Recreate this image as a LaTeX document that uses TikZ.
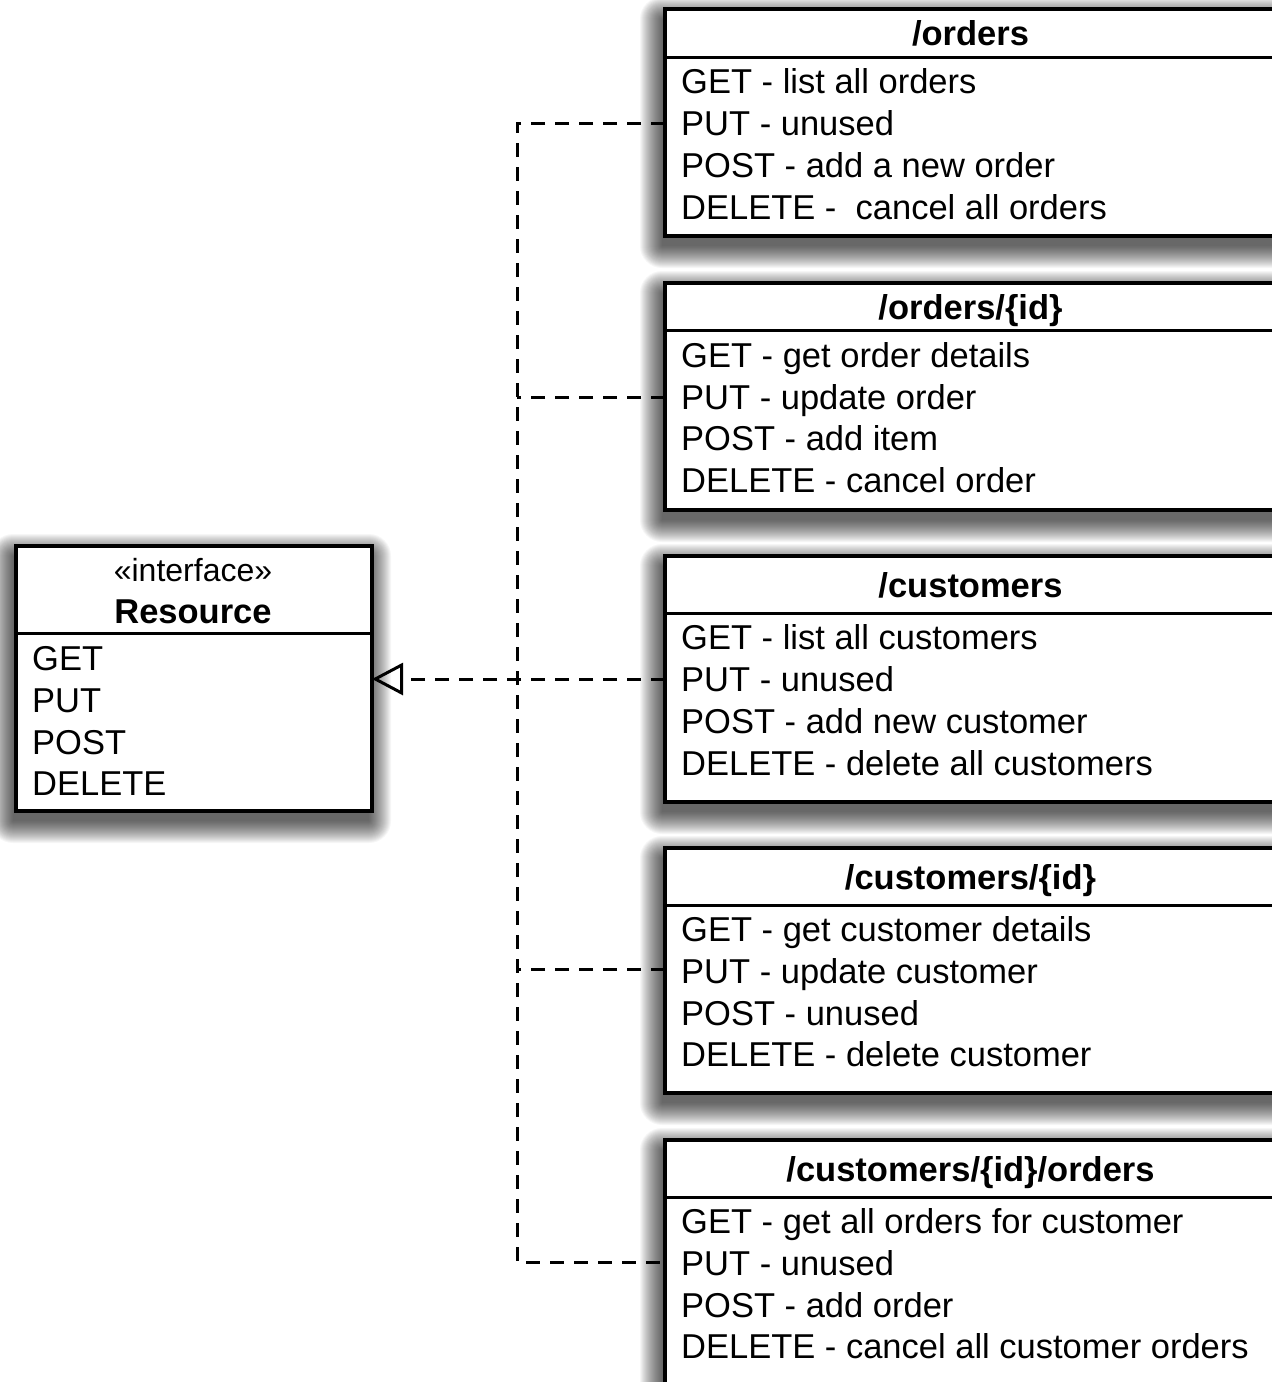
\documentclass[tikz,border=0pt]{standalone}
\usepackage{fontspec}
\setmainfont{Liberation Sans}
\usetikzlibrary{arrows.meta}
\newcommand\ushadow[4]{%
  \foreach \r in {0,1,...,22}{%
    \fill[black,opacity=0.035,rounded corners=\r pt] ({#1-\r-3},{#2-\r+10}) rectangle ({#3+\r-3},{#4+\r+10});}}
\begin{document}
\begin{tikzpicture}[x=1pt,y=-1pt,
  box/.style={draw, line width=3.2pt, fill=white, inner sep=0pt, outer sep=0pt, anchor=north west},
  row/.style={anchor=base west, inner sep=0pt, font=\fontsize{34.5}{40}\selectfont},
  ttl/.style={anchor=base, inner sep=0pt, font=\fontsize{34.5}{40}\selectfont\bfseries},
  divline/.style={line width=3pt},
  conn/.style={line width=3pt, dash pattern=on 14pt off 10pt}]
\clip (0,0) rectangle (1272,1382);
\fill[white] (0,0) rectangle (1272,1382);

% shadows
\ushadow{665}{9}{1276}{236}
\ushadow{665}{283}{1276}{510}
\ushadow{665}{556}{1276}{802}
\ushadow{665}{848}{1276}{1093}
\ushadow{665}{1140}{1276}{1400}
\ushadow{16}{546}{372}{811}

% junction coordinates
\coordinate (j1) at (517,123);
\coordinate (j2) at (517,397);
\coordinate (j3) at (517,679);
\coordinate (j4) at (517,969);
\coordinate (j5) at (517,1262);

% boxes
\node[box, minimum width=611pt, minimum height=227pt] (orders) at (665,9) {};
\node[box, minimum width=611pt, minimum height=227pt] (oid) at (665,283) {};
\node[box, minimum width=611pt, minimum height=246pt] (cust) at (665,556) {};
\node[box, minimum width=611pt, minimum height=245pt] (cid) at (665,848) {};
\node[box, minimum width=611pt, minimum height=260pt] (cio) at (665,1140) {};
\node[box, minimum width=356pt, minimum height=265pt] (res) at (16,546) {};

% connectors
\draw[conn] (orders.west |- j1) -- (j1) -- (j5) -- (cio.west |- j5);
\draw[conn] (oid.west |- j2) -- (j2);
\draw[conn] (cid.west |- j4) -- (j4);
\draw[conn, -{Triangle[open, length=31pt, width=32pt, line width=3pt]}] (cust.west |- j3) -- (res.east |- j3);

% dividers
\draw[divline] (orders.west |- 0,57) -- (orders.east |- 0,57);
\draw[divline] (oid.west |- 0,330) -- (oid.east |- 0,330);
\draw[divline] (cust.west |- 0,613) -- (cust.east |- 0,613);
\draw[divline] (cid.west |- 0,905) -- (cid.east |- 0,905);
\draw[divline] (cio.west |- 0,1197) -- (cio.east |- 0,1197);
\draw[divline] (res.west |- 0,633) -- (res.east |- 0,633);

% /orders
\node[ttl] (t1) at (970.5,45) {/orders};
\node[row] (o1) at (681,93) {GET - list all orders};
\node[row] (o2) at (681,135) {PUT - unused};
\node[row] (o3) at (681,177) {POST - add a new order};
\node[row] (o4) at (681,219) {DELETE - \ cancel all orders};

% /orders/{id}
\node[ttl] (t2) at (970.5,319) {/orders/\{id\}};
\node[row] (p1) at (681,367) {GET - get order details};
\node[row] (p2) at (681,409) {PUT - update order};
\node[row] (p3) at (681,450) {POST - add item};
\node[row] (p4) at (681,492) {DELETE - cancel order};

% /customers
\node[ttl] (t3) at (970.5,597) {/customers};
\node[row] (c1) at (681,649) {GET - list all customers};
\node[row] (c2) at (681,691) {PUT - unused};
\node[row] (c3) at (681,733) {POST - add new customer};
\node[row] (c4) at (681,775) {DELETE - delete all customers};

% /customers/{id}
\node[ttl] (t4) at (970.5,889) {/customers/\{id\}};
\node[row] (d1) at (681,941) {GET - get customer details};
\node[row] (d2) at (681,983) {PUT - update customer};
\node[row] (d3) at (681,1025) {POST - unused};
\node[row] (d4) at (681,1066) {DELETE - delete customer};

% /customers/{id}/orders
\node[ttl] (t5) at (970.5,1181) {/customers/\{id\}/orders};
\node[row] (e1) at (681,1233) {GET - get all orders for customer};
\node[row] (e2) at (681,1275) {PUT - unused};
\node[row] (e3) at (681,1317) {POST - add order};
\node[row] (e4) at (681,1358) {DELETE - cancel all customer orders};

% Resource
\node[anchor=base, inner sep=0pt, font=\fontsize{32}{36}\selectfont] (st) at (193,581) {«interface»};
\node[ttl] (rt) at (193,623) {Resource};
\node[row] (r1) at (32,670) {GET};
\node[row] (r2) at (32,712) {PUT};
\node[row] (r3) at (32,754) {POST};
\node[row] (r4) at (32,795) {DELETE};
\end{tikzpicture}
\end{document}
